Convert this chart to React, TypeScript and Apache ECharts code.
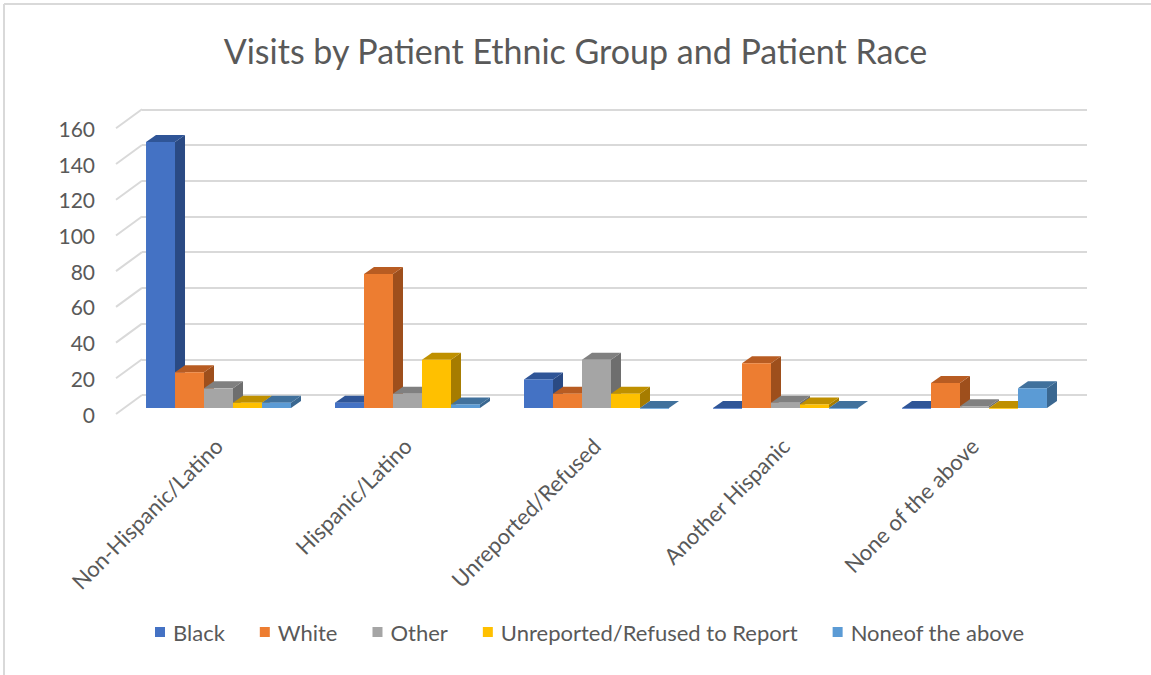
import React, { useEffect, useRef } from "react";
import * as echarts from "echarts";

const categories = [
  "Non-Hispanic/Latino",
  "Hispanic/Latino",
  "Unreported/Refused",
  "Another Hispanic",
  "None of the above",
];
const seriesNames = ["Black", "White", "Other", "Unreported/Refused to Report", "Noneof the above"];
const blackValues = [149, 3, 16, 0, 0];
const whiteValues = [20, 75, 8, 25, 14];
const otherValues = [11, 8, 27, 3, 1];
const unreportedValues = [3, 27, 8, 2, 0];
const noneValues = [3, 2, 0, 0, 11];
const yTicks = [0, 20, 40, 60, 80, 100, 120, 140, 160];

const seriesValues = [blackValues, whiteValues, otherValues, unreportedValues, noneValues];
const frontColors = ["#4472C4", "#ED7D31", "#A5A5A5", "#FFC000", "#5B9BD5"];
const topColors = ["#2F5597", "#B85C22", "#808080", "#BF9000", "#41719C"];
const sideColors = ["#2A4A84", "#9E4F1C", "#6E6E6E", "#A67C00", "#3A6790"];

const FONT = "Lato, 'Liberation Sans', sans-serif";
const TEXT = "#595959";
const GRID = "#d9d9d9";

export default function App() {
  const ref = useRef<HTMLDivElement>(null);
  useEffect(() => {
    if (!ref.current) return;
    const chart = echarts.init(ref.current, undefined, { renderer: "svg" });
    const DX = 10;
    const DY = 7;
    const barSeries = seriesNames.map((name, si) => ({
      name,
      type: "custom",
      xAxisIndex: 2,
      yAxisIndex: 2,
      itemStyle: { color: frontColors[si] },
      data: seriesValues[si].map((v, ci) => [ci, v]),
      renderItem: (params: any, api: any) => {
        const cat = api.value(0);
        const val = api.value(1);
        const base = api.coord([cat, 0]);
        const top = api.coord([cat, val]);
        const catW = api.size([1, 0])[0];
        const bw = catW * 0.1534;
        const x0 = base[0] - 2.5 * bw + si * bw;
        const x1 = x0 + bw;
        const yb = base[1];
        const yt = top[1];
        return {
          type: "group",
          children: [
            {
              type: "polygon",
              shape: { points: [[x1, yt], [x1 + DX, yt - DY], [x1 + DX, yb - DY], [x1, yb]] },
              style: { fill: sideColors[si] },
            },
            {
              type: "polygon",
              shape: { points: [[x0, yt], [x0 + DX, yt - DY], [x1 + DX, yt - DY], [x1, yt]] },
              style: { fill: topColors[si] },
            },
            {
              type: "rect",
              shape: { x: x0, y: yt, width: bw, height: Math.max(yb - yt, 0.8) },
              style: { fill: frontColors[si] },
            },
          ],
        };
      },
    }));

    chart.setOption({
      animation: false,
      backgroundColor: "#ffffff",
      title: {
        text: "Visits by Patient Ethnic Group and Patient Race",
        left: "center",
        top: 28,
        textStyle: { fontFamily: FONT, fontSize: 34, fontWeight: "normal", color: TEXT },
      },
      legend: {
        data: seriesNames,
        bottom: 27,
        left: 150,
        icon: "rect",
        itemWidth: 10,
        itemHeight: 10,
        itemGap: 35,
        textStyle: { fontFamily: FONT, fontSize: 22, color: TEXT, padding: [0, 0, 0, 3] },
      },
      graphic: [
        { type: "line", shape: { x1: 4, y1: 4, x2: 1151, y2: 4 }, style: { stroke: GRID, lineWidth: 2 } },
        { type: "line", shape: { x1: 4, y1: 4, x2: 4, y2: 675 }, style: { stroke: GRID, lineWidth: 2 } },
      ],
      grid: [
        { left: 142, right: 64, top: 109.3, bottom: 280 },
        { left: 116, right: 90, top: 128.3, bottom: 261 },
        { left: 124, right: 82, top: 122.3, bottom: 267 },
      ],
      xAxis: [
        { gridIndex: 0, type: "value", min: 0, max: 1, show: false },
        { gridIndex: 1, type: "value", min: 0, max: 1, show: false },
        {
          gridIndex: 2,
          type: "category",
          data: categories,
          axisLine: { show: false },
          axisTick: { show: false },
          axisLabel: {
            rotate: 45,
            margin: 34,
            interval: 0,
            fontFamily: FONT,
            fontSize: 22,
            color: TEXT,
          },
        },
      ],
      yAxis: [
        {
          gridIndex: 0,
          type: "value",
          min: 0,
          max: 160,
          interval: 20,
          axisLabel: { show: false },
          axisLine: { show: false },
          axisTick: { show: false },
          splitLine: { show: true, lineStyle: { color: GRID, width: 2 } },
        },
        {
          gridIndex: 1,
          type: "value",
          min: 0,
          max: 160,
          interval: 20,
          axisLine: { show: false },
          axisTick: { show: false },
          splitLine: { show: false },
          axisLabel: { margin: 21, fontFamily: FONT, fontSize: 21, color: TEXT },
        },
        { gridIndex: 2, type: "value", min: 0, max: 160, interval: 20, show: false, splitLine: { show: false } },
      ],
      series: [
        {
          name: "sideTicks",
          type: "custom",
          xAxisIndex: 1,
          yAxisIndex: 1,
          silent: true,
          data: yTicks.map((v) => [0, v]),
          renderItem: (params: any, api: any) => {
            const p = api.coord([0, api.value(1)]);
            return {
              type: "line",
              shape: { x1: p[0], y1: p[1], x2: p[0] + 26, y2: p[1] - 19 },
              style: { stroke: GRID, lineWidth: 2 },
            };
          },
        },
        ...barSeries,
      ],
    });
    return () => chart.dispose();
  }, []);
  return <div ref={ref} style={{ position: "fixed", left: 0, top: 0, width: 1151, height: 675 }} />;
}
